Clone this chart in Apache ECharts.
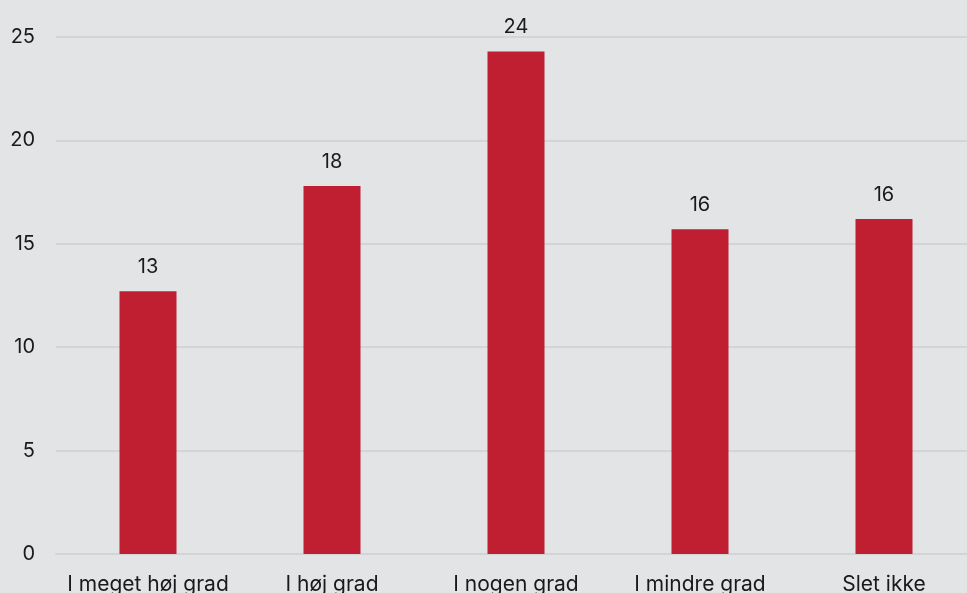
<!DOCTYPE html>
<html>
<head>
<meta charset="utf-8">
<script src="https://cdn.jsdelivr.net/npm/echarts@6/dist/echarts.min.js"></script>
<style>
  html, body { margin: 0; padding: 0; background: #e3e4e6; }
  #chart { width: 967px; height: 593px; }
</style>
</head>
<body>
<div id="chart"></div>
<script>
// Survey answers and their shares
const categories = ['I meget høj grad', 'I høj grad', 'I nogen grad', 'I mindre grad', 'Slet ikke'];
const values = [12.7, 17.8, 24.3, 15.7, 16.2];
const yTicks = { min: 0, max: 25, interval: 5 };

const chart = echarts.init(document.getElementById('chart'), null, { renderer: 'canvas' });
const font = 'Inter, "Noto Sans", sans-serif';

chart.setOption({
  backgroundColor: '#e3e4e6',
  animation: false,
  // plot area runs slightly past the right edge of the canvas
  grid: { left: 56, width: 920, top: 37, bottom: 39, containLabel: false, outerBoundsMode: 'none' },
  xAxis: {
    type: 'category',
    data: categories,
    axisLine: { show: true, lineStyle: { color: '#d3d4d6', width: 2 } },
    axisTick: { show: false },
    axisLabel: { color: '#1a1a1a', fontFamily: font, fontSize: 21, margin: 20, interval: 0 }
  },
  yAxis: {
    type: 'value',
    min: yTicks.min,
    max: yTicks.max,
    interval: yTicks.interval,
    axisLine: { show: false },
    axisTick: { show: false },
    splitLine: { lineStyle: { color: '#d3d4d6', width: 2 } },
    axisLabel: { color: '#1a1a1a', fontFamily: font, fontSize: 20, margin: 21 }
  },
  series: [{
    type: 'bar',
    data: values,
    barWidth: 57,
    itemStyle: { color: '#c01f32' },
    label: {
      show: true,
      position: 'top',
      distance: 14,
      color: '#1a1a1a',
      fontFamily: font,
      fontSize: 20,
      formatter: p => Math.round(p.value)
    }
  }]
});
</script>
</body>
</html>
